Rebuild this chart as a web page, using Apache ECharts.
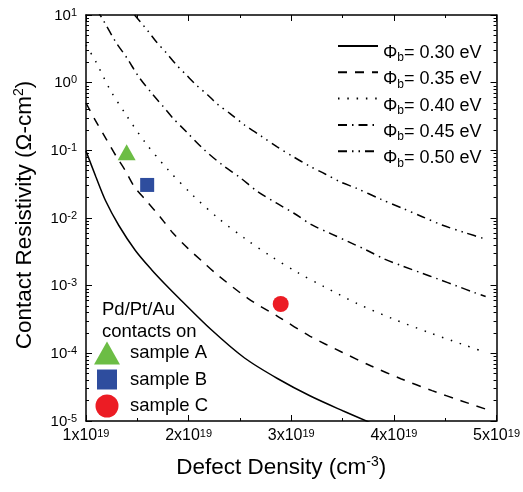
<!DOCTYPE html>
<html><head><meta charset="utf-8">
<script src="https://cdn.jsdelivr.net/npm/echarts@6/dist/echarts.min.js"></script>
<style>html,body{margin:0;padding:0;background:#fff}#c{width:523px;height:492px}</style>
</head><body><div id="c"></div>
<script>
const FONT = 'Liberation Sans, Arial, Helvetica, sans-serif';

// Barrier heights (eV) for the five model curves
const barrierLabels = ['0.30', '0.35', '0.40', '0.45', '0.50'];

// Defect density in units of 1e19 cm^-3, contact resistivity in ohm-cm^2
const density030 = [1.000, 1.096, 1.192, 1.320, 1.481, 1.641, 1.769, 1.904, 2.224, 2.545, 2.865, 3.186, 3.507, 3.780];
const rho030     = [0.0977, 0.0407, 0.01783, 0.00775, 0.00331, 0.001706, 0.001059, 0.000658, 0.000221, 8.53e-5, 4.25e-5, 2.34e-5, 1.406e-5, 9.3e-6];

const density035 = [1.000, 1.080, 1.197, 1.293, 1.380, 1.471, 1.596, 1.721, 1.849, 1.993, 2.137, 2.282, 2.577, 2.882, 3.180, 3.490, 3.779, 4.067, 4.372, 4.660, 4.901];
const rho035     = [0.501, 0.297, 0.147, 0.0824, 0.0512, 0.0290, 0.0174, 0.01045, 0.00594, 0.00356, 0.00226, 0.00144, 0.000650, 0.000341, 0.000180, 0.0001047, 6.50e-5, 4.22e-5, 2.81e-5, 1.98e-5, 1.49e-5];

const density040 = [1.000, 1.096, 1.231, 1.391, 1.577, 1.795, 2.038, 2.298, 2.551, 2.808, 3.064, 3.320, 3.651, 4.003, 4.346, 4.686, 4.885];
const rho040     = [3.6, 2.04, 0.805, 0.333, 0.1306, 0.0525, 0.02188, 0.00966, 0.00494, 0.00268, 0.001556, 0.000966, 0.000536, 0.000318, 0.000202, 0.0001327, 0.0001047];

const density045 = [1.000, 1.176, 1.288, 1.401, 1.513, 1.641, 1.753, 1.849, 1.978, 2.154, 2.330, 2.497, 2.673, 2.849, 3.026, 3.202, 3.378, 3.555, 3.731, 3.907, 4.083, 4.260, 4.436, 4.613, 4.788, 4.894];
const rho045     = [21.9, 7.96, 4.03, 2.29, 1.225, 0.697, 0.442, 0.297, 0.188, 0.1012, 0.0607, 0.0400, 0.0245, 0.01683, 0.01175, 0.00789, 0.00594, 0.00447, 0.00337, 0.00248, 0.00195, 0.001556, 0.001242, 0.000989, 0.000787, 0.00069];

const density050 = [1.300, 1.529, 1.609, 1.689, 1.786, 1.882, 1.978, 2.074, 2.186, 2.282, 2.401, 2.545, 2.705, 2.859, 3.019, 3.170, 3.330, 3.474, 3.635, 3.875, 4.084, 4.276, 4.468, 4.692, 4.901];
const rho050     = [20.0, 7.96, 5.66, 3.95, 2.72, 1.824, 1.297, 0.925, 0.658, 0.479, 0.352, 0.2366, 0.163, 0.1132, 0.0805, 0.0593, 0.0447, 0.0344, 0.0275, 0.01888, 0.01390, 0.01045, 0.00789, 0.00607, 0.00484];

// Measured samples (Pd/Pt/Au contacts)
const sampleNames   = ['sample A', 'sample B', 'sample C'];
const sampleDensity = [1.396, 1.596, 2.897];
const sampleRho     = [0.0935, 0.0308, 0.000536];

// Tick labels
const xTickMantissa = ['1', '2', '3', '4', '5'];
const xTickExponent = '19';

const curveDensity = [density030, density035, density040, density045, density050];
const curveRho = [rho030, rho035, rho040, rho045, rho050];
const curveDash = ['solid', [9, 8], [1.5, 7.8], [9, 5, 1.5, 5], [9, 5, 1.5, 5, 1.5, 5]];

const zip = (a, b) => a.map((v, i) => [v, b[i]]);

const lineSeries = barrierLabels.map((name, i) => ({
  name: name,
  type: 'line',
  xAxisIndex: 0, yAxisIndex: 0,
  data: zip(curveDensity[i], curveRho[i]),
  symbol: 'none',
  smooth: 0.3,
  clip: true,
  silent: true,
  lineStyle: { color: '#000', width: 1.5, type: curveDash[i] },
  itemStyle: { color: '#000' },
  z: 2
}));

const sampleSymbols = ['triangle', 'rect', 'circle'];
const sampleSizes = [[18, 16], 14, 16];
const sampleColors = ['#6cbd45', '#2e4d9e', '#ec1c24'];
const sampleSeries = sampleNames.map((name, i) => ({
  name: name,
  type: 'scatter',
  xAxisIndex: 0, yAxisIndex: 0,
  data: [[sampleDensity[i], sampleRho[i]]],
  symbol: sampleSymbols[i],
  symbolSize: sampleSizes[i],
  itemStyle: { color: sampleColors[i], opacity: 1 },
  z: 3
}));

const axisLineStyle = { show: true, lineStyle: { color: '#000', width: 1.5 } };
const tickStyle = { color: '#000', width: 1 };

const xBase = {
  type: 'value', min: 1, max: 5, interval: 1, gridIndex: 0,
  axisLine: axisLineStyle,
  axisTick: { show: true, inside: true, length: 6, lineStyle: tickStyle },
  minorTick: { show: true, splitNumber: 2, length: 3, lineStyle: tickStyle },
  splitLine: { show: false }, minorSplitLine: { show: false }
};
const yBase = {
  type: 'log', logBase: 10, min: 1e-5, max: 10, interval: 1, gridIndex: 0,
  axisLine: axisLineStyle,
  axisTick: { show: true, inside: true, length: 6, lineStyle: tickStyle },
  minorTick: { show: true, splitNumber: 9, length: 3, lineStyle: tickStyle },
  splitLine: { show: false }, minorSplitLine: { show: false }
};

const option = {
  animation: false,
  backgroundColor: '#fff',
  textStyle: { fontFamily: FONT },
  grid: { left: 86, top: 15, width: 416, height: 406, containLabel: false },
  title: {
    text: 'Pd/Pt/Au\ncontacts on',
    left: 102, top: 299, padding: 0,
    textStyle: { fontFamily: FONT, fontSize: 18.5, fontWeight: 'normal', color: '#000', lineHeight: 22 }
  },
  legend: [
    {
      data: barrierLabels,
      orient: 'vertical', left: 337, top: 38, padding: 0,
      itemWidth: 40, itemHeight: 14, itemGap: 0.3,
      selectedMode: false,
      itemStyle: { color: 'rgba(0,0,0,0)', opacity: 0, borderWidth: 0 },
      formatter: name => '{m|\u03A6}{s|b}{m|= ' + name + ' eV}',
      textStyle: {
        fontFamily: FONT, fontSize: 18, color: '#000',
        rich: {
          m: { fontFamily: FONT, fontSize: 18, lineHeight: 16, padding: [6, 0, 0, 0], verticalAlign: 'top', color: '#000' },
          s: { fontFamily: FONT, fontSize: 12, lineHeight: 11, padding: [14, 0, 0, 0], verticalAlign: 'top', color: '#000' }
        }
      }
    },
    {
      data: [
        { name: sampleNames[0], icon: 'path://M13,0L26,23L0,23Z' },
        { name: sampleNames[1], icon: 'path://M-1.5,-1.5L-1.5,-1.5M21.5,21.5L21.5,21.5M0,0L20,0L20,20L0,20Z' },
        { name: sampleNames[2], icon: 'circle' }
      ],
      orient: 'vertical', left: 94, top: 341.5, padding: 0,
      itemWidth: 26, itemHeight: 23, itemGap: 3.5,
      selectedMode: false,
      formatter: name => '{t|' + name + '}',
      textStyle: {
        fontFamily: FONT, fontSize: 18.5, color: '#000',
        rich: { t: { fontFamily: FONT, fontSize: 18.5, lineHeight: 23, padding: [0, 0, 0, 5], color: '#000' } }
      }
    }
  ],
  xAxis: [
    Object.assign({}, xBase, {
      position: 'bottom',
      name: 'Defect Density (cm{s|-3})',
      nameLocation: 'middle', nameGap: 34,
      nameTextStyle: {
        fontFamily: FONT, fontSize: 22.5, color: '#000', lineHeight: 26, padding: [0, 20, 0, 0],
        rich: { s: { fontFamily: FONT, fontSize: 14, lineHeight: 14, verticalAlign: 'top', color: '#000' } }
      },
      axisLabel: {
        show: true, margin: 7, color: '#000', fontFamily: FONT, fontSize: 16,
        formatter: v => {
          const i = Math.round(v) - 1;
          if (Math.abs(v - Math.round(v)) > 1e-6 || i < 0 || i >= xTickMantissa.length) return '';
          return '{b|' + xTickMantissa[i] + 'x10}{s|' + xTickExponent + '}';
        },
        rich: {
          b: { fontFamily: FONT, fontSize: 16, lineHeight: 16, verticalAlign: 'bottom', color: '#000' },
          s: { fontFamily: FONT, fontSize: 11, lineHeight: 10, padding: [0, 0, 10, 0], verticalAlign: 'top', color: '#000' }
        }
      }
    }),
    Object.assign({}, xBase, { position: 'top', axisLabel: { show: false } })
  ],
  yAxis: [
    Object.assign({}, yBase, {
      position: 'left',
      name: 'Contact Resistivity (\u03A9-cm{s|2})',
      nameLocation: 'middle', nameGap: 48,
      nameTextStyle: {
        fontFamily: FONT, fontSize: 22.5, color: '#000', lineHeight: 26, padding: [0, 0, 0, 6],
        rich: { s: { fontFamily: FONT, fontSize: 14, lineHeight: 14, verticalAlign: 'top', color: '#000' } }
      },
      axisLabel: {
        show: true, margin: 9, color: '#000', fontFamily: FONT, fontSize: 15,
        formatter: v => '{b|10}{s|' + Math.round(Math.log10(v)) + '}',
        rich: {
          b: { fontFamily: FONT, fontSize: 15, lineHeight: 16, verticalAlign: 'bottom', color: '#000' },
          s: { fontFamily: FONT, fontSize: 11, lineHeight: 11, padding: [0, 0, 11, 0], verticalAlign: 'top', color: '#000' }
        }
      }
    }),
    Object.assign({}, yBase, { position: 'right', axisLabel: { show: false } })
  ],
  series: lineSeries.concat(sampleSeries)
};

const chart = echarts.init(document.getElementById('c'), null, { renderer: 'canvas' });
chart.setOption(option);
</script>
</body></html>
